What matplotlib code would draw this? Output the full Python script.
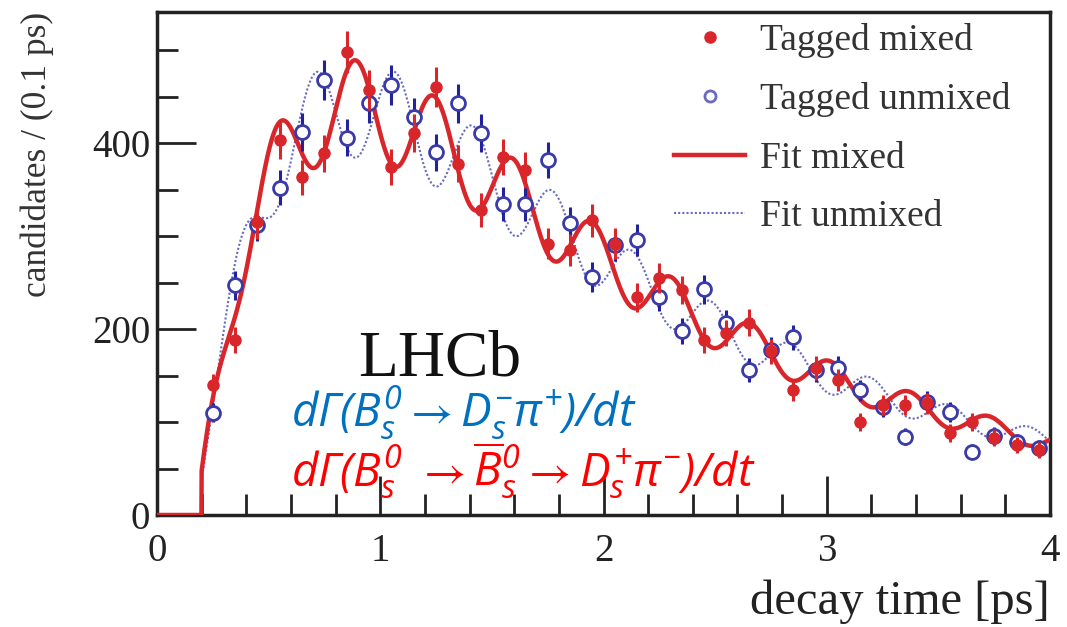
import numpy as np
import matplotlib
matplotlib.use("Agg")
import matplotlib.pyplot as plt
from matplotlib.lines import Line2D
from matplotlib.ticker import MultipleLocator

# bin centres (0.1 ps bins) and candidate counts
t_bins = [0.25, 0.35, 0.45, 0.55, 0.65, 0.75, 0.85, 0.95, 1.05, 1.15,
          1.25, 1.35, 1.45, 1.55, 1.65, 1.75, 1.85, 1.95, 2.05, 2.15,
          2.25, 2.35, 2.45, 2.55, 2.65, 2.75, 2.85, 2.95, 3.05, 3.15,
          3.25, 3.35, 3.45, 3.55, 3.65, 3.75, 3.85, 3.95]
mixed = [140, 188, 315, 403, 363, 389, 498, 457, 374, 411,
         460, 378, 328, 385, 371, 292, 285, 317, 292, 234,
         255, 242, 188, 196, 207, 176, 134, 158, 145, 100,
         118, 118, 120, 88, 100, 83, 75, 70]
unmixed = [110, 247, 312, 352, 412, 468, 406, 443, 462, 428,
           390, 443, 411, 335, 335, 382, 314, 256, 290, 296,
           235, 198, 243, 206, 156, 178, 191, 156, 158, 134,
           116, 84, 122, 111, 68, 85, 78, 72]

# fit model parameters (decay * acceptance * oscillation)
fit_norm = 975.0
fit_tau = 1.6        # ps
fit_dms = 17.7       # ps^-1
fit_dilution = 0.12
acc_t0 = 0.2         # ps, lower time cut
acc_scale = 0.47
acc_frac = 0.95

RED = "#d8262b"
BLUE_PT = "#3a3aa8"
BLUE_LINE = "#6a6ac0"


def fit_curve(t, sign):
    acc = np.where(t >= acc_t0, 1 - acc_frac * np.exp(-(t - acc_t0) / acc_scale), 0.0)
    return fit_norm * np.exp(-t / fit_tau) * acc * (1 + sign * fit_dilution * np.cos(fit_dms * t))


def main():
    plt.rcParams["font.family"] = ["Liberation Serif", "DejaVu Serif"]
    plt.rcParams["mathtext.fontset"] = "custom"
    plt.rcParams["mathtext.rm"] = "Open Sans:italic"
    plt.rcParams["mathtext.it"] = "Open Sans:italic"
    plt.rcParams["mathtext.fallback"] = "stixsans"

    fig = plt.figure(figsize=(10.67, 6.27), dpi=100)
    ax = fig.add_axes([157 / 1067, 1 - 515 / 627, 893 / 1067, 503 / 627])

    t = np.linspace(0, 4, 4001)
    ax.plot(t, fit_curve(t, +1), color=BLUE_LINE, lw=1.5, ls=(0, (1, 1)), zorder=2)
    ax.plot(t, fit_curve(t, -1), color=RED, lw=3.2, zorder=3)

    tb = np.array(t_bins)
    mx = np.array(mixed, dtype=float)
    um = np.array(unmixed, dtype=float)
    ax.errorbar(tb, um, yerr=np.sqrt(um), fmt="o", ms=10, mfc="white", mec=BLUE_PT,
                mew=2.0, ecolor="#22229a", elinewidth=2.2, capsize=0, zorder=4)
    ax.errorbar(tb, mx, yerr=np.sqrt(mx), fmt="o", ms=8, mfc=RED, mec=RED,
                ecolor=RED, elinewidth=2.2, capsize=0, zorder=5)

    ax.set_xlim(0, 4)
    ax.set_ylim(0, 541)
    ax.xaxis.set_major_locator(MultipleLocator(1))
    ax.xaxis.set_minor_locator(MultipleLocator(0.2))
    ax.yaxis.set_major_locator(MultipleLocator(200))
    ax.yaxis.set_minor_locator(MultipleLocator(50))
    ax.tick_params(which="both", direction="in", width=2, colors="#222222")
    ax.tick_params(which="major", length=28, labelsize=28)
    ax.tick_params(axis="x", which="major", pad=13)
    ax.tick_params(axis="y", which="major", pad=5)
    ax.tick_params(which="minor", length=15)
    for sp in ax.spines.values():
        sp.set_linewidth(2.5)
        sp.set_color("#222222")

    ax.set_xlabel("decay time [ps]", fontsize=35, loc="right", color="#222222", labelpad=7)
    ax.set_ylabel("candidates / (0.1 ps)", fontsize=25.5, loc="top", color="#333333")
    ax.yaxis.set_label_coords(-0.115, 1.0)

    ax.text(0.9, 150, "LHCb", fontsize=47, color="#111111")
    ax.text(0.6, 94, r"$d\Gamma(B_s^0 \rightarrow D_s^{-}\pi^{+})/dt$",
            fontsize=33, color="#0070c0")
    ax.text(0.6, 31, r"$d\Gamma(B_s^0\ \rightarrow \overline{B}_s^0 \rightarrow D_s^{+}\pi^{-})/dt$",
            fontsize=33, color="#ff0000")

    handles = [
        Line2D([], [], ls="none", marker="o", ms=8, color=RED),
        Line2D([], [], ls="none", marker="o", ms=8, mfc="white", mec=BLUE_LINE, mew=2),
        Line2D([], [], color=RED, lw=3.2),
        Line2D([], [], color=BLUE_LINE, lw=1.5, ls=(0, (1, 1))),
    ]
    labels = ["Tagged mixed", "Tagged unmixed", "Fit mixed", "Fit unmixed"]
    ax.legend(handles, labels, loc="upper left", bbox_to_anchor=(0.575, 0.985),
              frameon=False, fontsize=27, handlelength=1.9, handletextpad=0.4,
              labelspacing=0.64, borderpad=0.1, borderaxespad=0, labelcolor="#333333")

    fig.savefig("out.png", dpi=100)


if __name__ == "__main__":
    main()
